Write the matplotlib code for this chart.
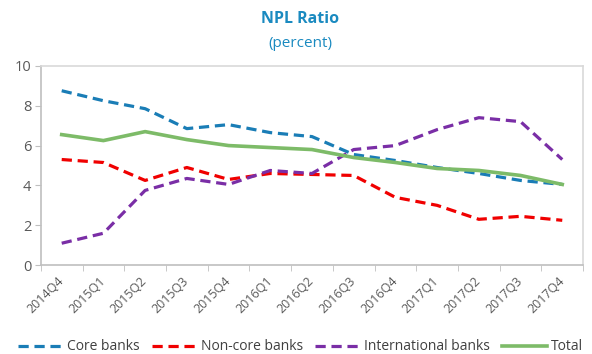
import numpy as np
import matplotlib.pyplot as plt

# Data
quarters = ['2014Q4', '2015Q1', '2015Q2', '2015Q3', '2015Q4', '2016Q1', '2016Q2',
            '2016Q3', '2016Q4', '2017Q1', '2017Q2', '2017Q3', '2017Q4']
core = [8.75, 8.25, 7.85, 6.85, 7.05, 6.65, 6.45, 5.55, 5.25, 4.9, 4.6, 4.25, 4.05]
noncore = [5.3, 5.15, 4.25, 4.9, 4.3, 4.6, 4.55, 4.5, 3.4, 3.0, 2.3, 2.45, 2.25]
intl = [1.1, 1.6, 3.75, 4.35, 4.05, 4.75, 4.6, 5.8, 6.0, 6.8, 7.4, 7.2, 5.3]
total = [6.55, 6.25, 6.7, 6.3, 6.0, 5.9, 5.8, 5.4, 5.15, 4.85, 4.75, 4.5, 4.05]

plt.rcParams['font.family'] = ['Open Sans', 'DejaVu Sans']

fig = plt.figure(figsize=(5.92, 3.54), dpi=100)
ax = fig.add_axes([0.069, 0.251, 0.916, 0.563])

x = np.arange(len(quarters))
dash = (0, (3.2, 1.8))
ax.plot(x, core, color='#1A7DB6', lw=2.3, ls=dash, label='Core banks')
ax.plot(x, noncore, color='#F00000', lw=2.3, ls=dash, label='Non-core banks')
ax.plot(x, intl, color='#7A2EA6', lw=2.3, ls=dash, label='International banks')
ax.plot(x, total, color='#7DBB68', lw=2.6, label='Total')

ax.set_xlim(-0.5, len(quarters) - 0.5)
ax.set_ylim(0, 10)
ax.set_yticks([0, 2, 4, 6, 8, 10])
ax.set_xticks(x)
ax.set_xticklabels(quarters, rotation=45, ha='right', va='center', rotation_mode='anchor')
ax.set_xticks(np.arange(-0.5, len(quarters), 1), minor=True)
ax.tick_params(axis='x', which='major', length=0, pad=10, labelsize=9, colors='#595959')
ax.tick_params(axis='x', which='minor', length=4, color='#BFBFBF')
ax.tick_params(axis='y', length=4, color='#BFBFBF', labelsize=10.5, colors='#595959', pad=3)
for s in ax.spines.values():
    s.set_color('#D9D9D9')
    s.set_linewidth(1.2)
ax.spines['left'].set_color('#BFBFBF')
ax.spines['bottom'].set_color('#BFBFBF')

fig.text(0.507, 0.945, 'NPL Ratio', ha='center', va='center', fontsize=11.5,
         fontweight='bold', color='#1A8AC0')
fig.text(0.507, 0.878, '(percent)', ha='center', va='center', fontsize=11,
         color='#1A8AC0')

fig.legend(loc='center', bbox_to_anchor=(0.508, 0.02), ncol=4, frameon=False,
           fontsize=10, handlelength=3.2, handletextpad=0.3, columnspacing=0.9,
           labelcolor='#404040')

fig.savefig('out.png', dpi=100)
